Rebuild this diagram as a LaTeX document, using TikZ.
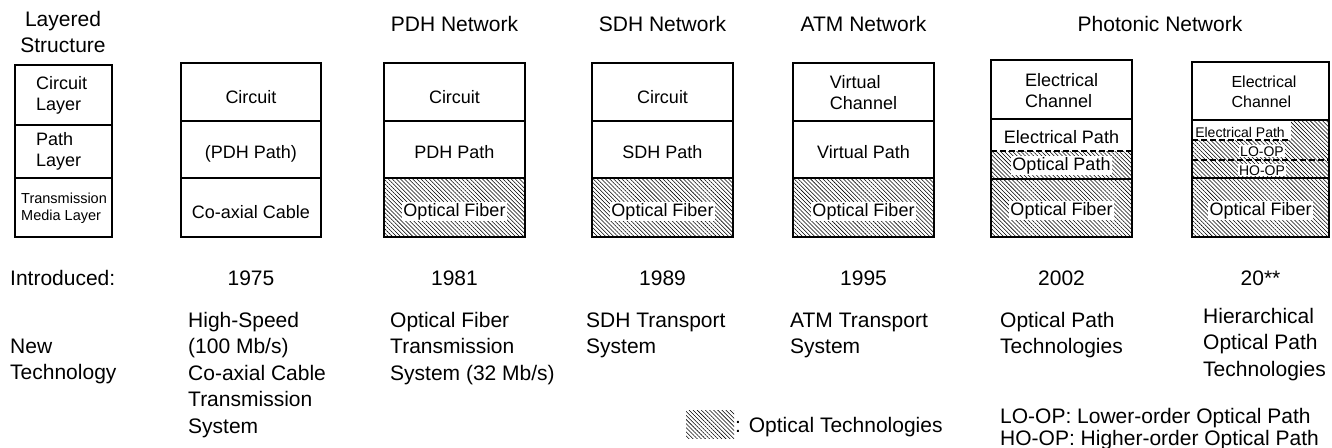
\documentclass[tikz,border=0pt]{standalone}
\usepackage{fontspec}
\setmainfont{Liberation Sans}
\usetikzlibrary{patterns.meta}
\begin{document}
\begin{tikzpicture}[x=1pt,y=-1pt,
  frame/.style={line width=1.5pt},
  hatch/.style={pattern={Lines[angle=-45,distance=2.9pt,line width=0.55pt]}},
  big/.style={font=\fontsize{21}{26.5}\selectfont, inner sep=0pt},
  mid/.style={font=\fontsize{18}{21}\selectfont, inner sep=0pt},
  small/.style={font=\fontsize{14}{17}\selectfont, inner sep=0pt},
  wbg/.style={fill=white, inner sep=1.2pt},
  dsh/.style={line width=1.5pt, dash pattern=on 6pt off 3pt},
]
\useasboundingbox (0,0) rectangle (1332,447);

% titles
\node[big, align=center, font=\fontsize{21}{25}\selectfont, anchor=base] (tL) at (63,52) {Layered\\Structure};
\node[big, anchor=base] (tB) at (454.5,31) {PDH Network};
\node[big, anchor=base] (tC) at (662.5,31) {SDH Network};
\node[big, anchor=base] (tD) at (863.5,31) {ATM Network};
\node[big, anchor=base] (tE) at (1160,31) {Photonic Network};

% layered structure box
\draw[frame] (15,65) rectangle (112,237);
\draw[frame] (15,125) -- (112,125) (15,178) -- (112,178);
\node[mid, align=left, anchor=west] (Lc) at (36,95) {Circuit\\Layer};
\node[mid, align=left, anchor=west] (Lp) at (36,151) {Path\\Layer};
\node[font=\fontsize{14.5}{17}\selectfont, inner sep=0pt, align=left, anchor=west] (Lt) at (21,208) {Transmission\\Media Layer};

% 1975
\draw[frame] (181,63) rectangle (321,237);
\draw[frame] (181,121) -- (321,121) (181,178) -- (321,178);
\node[mid, anchor=base] (Ac) at (251,103) {Circuit};
\node[mid, anchor=base] (Ap) at (251,158) {(PDH Path)};
\node[mid, anchor=base] (At) at (251,218) {Co-axial Cable};

% 1981
\fill[hatch] (384,178) rectangle (525,237);
\draw[frame] (384,63) rectangle (525,237);
\draw[frame] (384,121) -- (525,121) (384,178) -- (525,178);
\node[mid, anchor=base] (Bc) at (454.5,103) {Circuit};
\node[mid, anchor=base] (Bp) at (454.5,158) {PDH Path};
\node[mid, wbg, anchor=base] (Bt) at (454.5,216) {Optical Fiber};

% 1989
\fill[hatch] (592,178) rectangle (733,237);
\draw[frame] (592,63) rectangle (733,237);
\draw[frame] (592,121) -- (733,121) (592,178) -- (733,178);
\node[mid, anchor=base] (Cc) at (662.5,103) {Circuit};
\node[mid, anchor=base] (Cp) at (662.5,158) {SDH Path};
\node[mid, wbg, anchor=base] (Ct) at (662.5,216) {Optical Fiber};

% 1995
\fill[hatch] (793,178) rectangle (934,237);
\draw[frame] (793,63) rectangle (934,237);
\draw[frame] (793,121) -- (934,121) (793,178) -- (934,178);
\node[mid, align=left] (Dc) at (863.5,93) {Virtual\\Channel};
\node[mid, anchor=base] (Dp) at (863.5,158) {Virtual Path};
\node[mid, wbg, anchor=base] (Dt) at (863.5,216) {Optical Fiber};

% 2002
\fill[hatch] (991,151) rectangle (1132,237);
\draw[frame] (991,60) rectangle (1132,237);
\draw[frame] (991,119) -- (1132,119) (991,179) -- (1132,179);
\draw[dsh] (991,151) -- (1132,151);
\node[mid, align=left] (Ec) at (1061.5,91) {Electrical\\Channel};
\node[mid, anchor=base] (Ep) at (1061.5,143) {Electrical Path};
\node[mid, wbg, anchor=base] (Eo) at (1061.5,170) {Optical Path};
\node[mid, wbg, anchor=base] (Et) at (1061.5,215) {Optical Fiber};

% 20**
\fill[hatch] (1192,120) rectangle (1329,237);
\fill[white] (1192,120) rectangle (1291,140);
\draw[frame] (1192,62) rectangle (1329,237);
\draw[frame] (1192,120) -- (1329,120) (1192,178) -- (1329,178);
\draw[dsh] (1192,140) -- (1291,140);
\draw[dsh] (1192,160) -- (1329,160);
\node[font=\fontsize{16}{20}\selectfont, inner sep=0pt, align=left] (Fc) at (1264,92) {Electrical\\Channel};
\node[small, anchor=base] (Fe) at (1240,137) {Electrical Path};
\node[small, wbg, inner sep=1pt, anchor=base] (Fl) at (1262,156) {LO-OP};
\node[small, wbg, inner sep=1pt, anchor=base] (Fh) at (1262,175) {HO-OP};
\node[mid, wbg, anchor=base] (Ft) at (1260.5,215) {Optical Fiber};

% introduced
\node[big, anchor=base west] (intro) at (10,285) {Introduced:};
\node[big, anchor=base] (yA) at (251,285) {1975};
\node[big, anchor=base] (yB) at (454.5,285) {1981};
\node[big, anchor=base] (yC) at (662.5,285) {1989};
\node[big, anchor=base] (yD) at (863.5,285) {1995};
\node[big, anchor=base] (yE) at (1061.5,285) {2002};
\node[big, anchor=base] (yF) at (1260.5,285) {20**};

% new technology (anchor base = last line)
\node[big, align=left, anchor=base west] (nt) at (10,379.5) {New\\Technology};
\node[big, align=left, anchor=base west] (nA) at (188,433) {High-Speed\\(100 Mb/s)\\Co-axial Cable\\Transmission\\System};
\node[big, align=left, anchor=base west] (nB) at (390,380) {Optical Fiber\\Transmission\\System (32 Mb/s)};
\node[big, align=left, anchor=base west] (nC) at (586,353.5) {SDH Transport\\System};
\node[big, align=left, anchor=base west] (nD) at (790,353.5) {ATM Transport\\System};
\node[big, align=left, anchor=base west] (nE) at (1000,353.5) {Optical Path\\Technologies};
\node[big, align=left, anchor=base west] (nF) at (1203,376) {Hierarchical\\Optical Path\\Technologies};

% legend
\fill[hatch] (686,410) rectangle (734,438);
\node[big, anchor=base west] (lg) at (735,432) {: Optical Technologies};
\node[big, align=left, font=\fontsize{21}{21.5}\selectfont, anchor=base west] (ab) at (1000,445) {LO-OP: Lower-order Optical Path\\HO-OP: Higher-order Optical Path};
\end{tikzpicture}
\end{document}
